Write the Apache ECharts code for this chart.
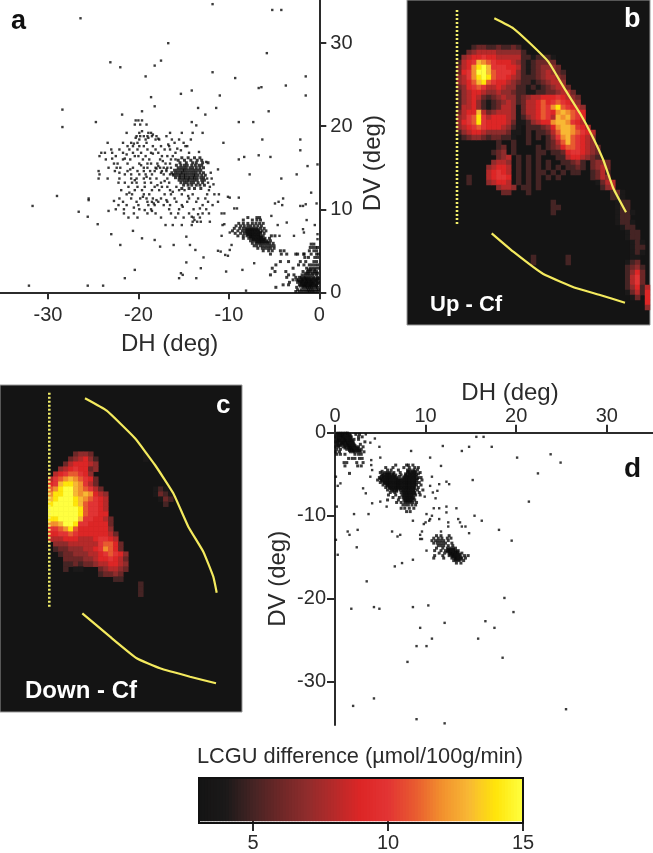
<!DOCTYPE html>
<html><head><meta charset="utf-8">
<style>html,body{margin:0;padding:0;background:#fff}#c{width:653px;height:853px}</style>
<script src="https://cdn.jsdelivr.net/npm/echarts@6/dist/echarts.min.js"></script>
</head><body><div id="c"></div>
<script>
// ---- tick labels
const ticksAX=[-30,-20,-10,0], ticksAY=[0,10,20,30];
const ticksDX=[0,10,20,30], ticksDY=[0,-10,-20,-30];
const ticksBar=[5,10,15];
// ---- panel a : sparse points [DH,DV]
const sparseA=[[-11.8,34.7],[-5.2,34],[-4.2,34],[-26.4,33],[-16.7,30],[-5.8,28.8],[-23.1,27.7],[-22,27.1],[-18.2,27.3],[-17.5,27.9],[-19.2,26],[-11.8,26.5],[-9.3,25.8],[-1.5,26],[-3.7,24.9],[-6.7,24.6],[-6.4,24.7],[-15.3,23.9],[-14.1,24.3],[-18.6,23.5],[-11,23.7],[-1.5,23.7],[-18.2,22.4],[-13.4,22.2],[-11.4,22.2],[-5.6,21.8],[-28.4,22],[-28.4,19.9],[-19.6,21.8],[-21.8,21.4],[-12.6,21.4],[-24.7,20.5],[-14.1,20.5],[-13.6,20.1],[-8.9,20.5],[-7.3,20.5],[-2.1,18.4],[-6.3,18.4],[-10.6,18],[-2.1,17.1],[-6.7,16.5],[-5.4,16.3],[-8.3,16.3],[-8.9,16],[-1.3,15.2],[-0.2,15.4],[-11.2,14.8],[-7.7,14.2],[-2.5,14.2],[-4.2,13.7],[-0.9,12],[-29,11.6],[-31.7,10.4],[-25.5,11.3],[-25.5,11.1],[-26.6,9.7],[-25.6,9.1],[-24.5,8.2],[-23,7],[-22,5.7],[-20.6,7.4],[-19.6,6.5],[-18.2,6.3],[-17.6,5.5],[-16.1,5.7],[-20.4,2.7],[-21.5,1.7],[-32.1,0.8],[-25.6,0.8],[-23.9,0.8],[-8.1,0.2],[-15.3,2.3],[-15.1,2.1],[-15.5,1.7],[-13.6,1.7],[-13.1,2.9],[-14.7,3.6],[-12.8,4.2],[-13.7,5.1],[-14.3,5.7],[-14.7,6.7],[-10.3,2.5],[-8.5,2.7],[-7.2,3.5],[-9.9,5.1],[-10.4,4.5],[-10.9,4.9],[-11.2,5],[-10.1,4.4],[-9.7,5.7],[-10.8,6.8],[-9.9,7.2],[-10.7,8.1],[-10.5,8.2],[-10.8,9.5],[-10.5,9.5],[-9.4,10.1],[-9.1,10.1],[-8.9,11.4],[-9.9,11.4],[-10.1,11.5],[-11.1,11.8],[-4.9,10.7],[-4.5,10.9],[-4,11.3],[-4.1,10.5],[-2.1,10.4],[-1.8,10.4],[-1.5,10.6],[-0.3,10.7],[-1.4,8.7],[-0.5,8.1],[-1.8,7.6],[-1.7,7.2],[-2.8,6.8],[-4.4,6.8],[-3.6,8.4],[-4.6,8.1],[-5.3,9.2],[-0.2,7],[-0.2,6.4]];
const cloudAExtra=[[-22.9,16.1],[-22.1,14.4],[-21.3,16.6],[-20.9,14.8],[-20.4,13.5],[-19.7,15.3],[-19.1,13.9],[-18.4,16.7],[-18,14.9],[-17.3,15.8],[-17.1,13.4],[-16.2,12.1],[-15.7,17.3],[-16.9,11.1],[-17.9,12.9],[-19.5,11.5],[-20.5,10.2],[-21,12],[-22.7,11],[-23.3,9.8],[-14.5,11.6],[-13.2,10.1],[-12.2,9.5],[-15.1,10.3],[-14.1,9.1],[-13.8,8.7],[-13.4,9.4],[-18.5,9.8],[-19.3,9.9],[-18.3,10.7],[-18,11.1],[-21.5,16.1],[-20.5,17.9],[-20.3,18.6],[-19.6,19.4],[-18.9,18.6],[-18.4,19],[-17.8,18.5],[-16.7,17.8],[-15.3,17.1],[-14.4,16.8],[-14.8,17.6],[-13.3,16.9],[-12.5,15.7],[-12,14.4],[-11.7,13],[-16.9,14.8],[-17.5,14.4],[-17.8,15.2]];
// ---- panel a : diffuse cloud, rows of [DV, DH, DH, ...]
const cloudARows=[[20.7,-20.3,-20,-19.6],[20.2,-20.4,-19.8,-19.1],[19.2,-19.9,-18.9,-18.6,-21.3,-16.5,-15.2,-14,-12.9],[18.8,-20.2,-19.8,-19.4,-19,-18.5,-18,-16.9],[18.4,-19.9,-19.2,-18.1,-17.7,-16.3,-15.5,-14.2],[18,-21.7,-20.8,-20.1,-19.1,-16,-15,-23.4],[17.6,-21.2,-20.6,-19.9,-19.4,-18.4,-17.5,-16.6,-14.6],[17.2,-23,-22.1,-21,-20.1,-19,-18.1,-17.1,-16.5],[16.8,-24.1,-23.7,-22.9,-21.7,-20.6,-19.7,-18.6,-17.8,-15.9],[16.4,-24.3,-22.5,-20.4,-20,-19.2,-17.4,-16.8,-16.2],[16,-23.6,-21.7,-20.9,-19.5,-18.8,-17.6,-16.4,-15.9],[15.5,-22.7,-22.3,-21.2,-19.9,-19,-18.6,-17.9,-17,-16.5],[15,-23.3,-22.4,-22,-20.6,-19.4,-19,-18.1,-17.6,-17.2,-16.8,-16.4],[14.6,-24.4,-22.6,-21.2,-20.1,-19.4,-18.7,-18.2,-17.4,-16.9],[14.2,-24.3,-21.5,-20.8,-19.9,-19.2,-18.5,-17.2,-16.5,-16.2],[13.7,-24.4,-23.4,-22.1,-20.8,-20.2,-19.4,-18.7,-18,-16.8,-11.9,-12.4],[13.2,-22.2,-21.5,-20.7,-20.2,-19.3,-18.6,-17.5,-16.6,-12.3],[12.7,-21.1,-20.1,-19.3,-18.2,-17.4,-16.8,-15.8,-12.1],[12.3,-21.9,-20.4,-19.6,-18.5,-17.7,-16.5,-15.5,-14.9,-12.2],[11.8,-21.3,-20.7,-19.4,-18.8,-17.1,-16.4,-15.2,-14,-12.4,-11.6],[11.3,-22.1,-20.8,-19.8,-19.1,-18.4,-17.5,-16,-14.4,-13.4,-12.6],[10.9,-21.7,-20.2,-19,-18.5,-17.8,-16.8,-15.8,-14.6,-13.6,-12.3,-11.2],[10.5,-22.2,-21.3,-20,-18.9,-18.2,-17.2,-16.5,-15.2,-12.9,-11.8],[10,-22.5,-21.6,-19.9,-18.6,-16.6,-15.5,-13.9,-12.5],[9.5,-21.6,-20.5,-19,-18.1,-16.4,-15.6,-14.4,-12.9],[9,-21.1,-20.1,-17.5,-15.9,-15,-13.9,-13.2],[8.5,-14,-13.5,-13.1,-12.1],[8.1,-17,-16.2,-15.2,-14.1]];
const clusterA1Rows=[[16.2,-15.2,-14.5,-13.8,-13.2],[15.9,-15.6,-14.9,-14.2,-13.5,-13],[15.6,-15.4,-14.7,-14,-13.6,-12.9,-12.3],[15.3,-15.8,-15.3,-14.9,-14.6,-14.1,-13.7,-13.3,-13],[15,-15.6,-15.3,-15,-14.7,-14.3,-14,-13.6,-13.2,-12.8],[14.7,-16,-15.7,-15.4,-15.1,-14.9,-14.6,-14.3,-14,-13.7,-13.4,-13.1],[14.4,-16.3,-15.9,-15.6,-15.3,-15.1,-14.8,-14.5,-14.2,-13.9,-13.6,-13.2,-12.8],[14.1,-16.1,-15.8,-15.5,-15.3,-15,-14.8,-14.5,-14.2,-13.9,-13.7,-13.4,-13,-12.6],[13.8,-15.9,-15.5,-15.3,-15,-14.8,-14.5,-14.3,-14,-13.8,-13.5,-13.1,-12.8],[13.5,-15.5,-15.2,-14.9,-14.6,-14.4,-14.1,-13.8,-13.5,-13,-12.7],[13.2,-15.3,-14.9,-14.6,-14.2,-13.9,-13.4,-12.9],[12.9,-15,-14.5,-14.1,-13.6,-13.2,-12.7],[12.5,-15.2,-14.4,-13.8,-13.1]];
const clusterA2Rows=[[9,-7.9,-6.9,-6.6],[8.7,-8.4,-7.4,-6.9,-6.5],[8.3,-8.9,-8.4,-7.9,-7.4,-7,-6.6,-6.2],[8,-9.2,-8.7,-8.3,-7.9,-7.6,-7.2,-6.8,-6.4],[7.7,-9.4,-8.8,-8.4,-8.1,-7.8,-7.5,-7.2,-6.9,-6.5,-6.1],[7.4,-9.6,-9,-8.5,-8.2,-7.9,-7.6,-7.3,-7,-6.7,-6.3,-5.9],[7.1,-9.3,-8.7,-8.3,-8,-7.7,-7.4,-7.1,-6.8,-6.5,-6.1],[6.8,-9,-8.4,-8,-7.7,-7.4,-7.1,-6.8,-6.5,-6.2,-5.3,-4.9],[6.5,-8.4,-7.8,-7.5,-7.2,-6.9,-6.6,-6.3,-6,-5.5],[6.2,-7.6,-7.3,-7,-6.7,-6.4,-6.1,-5.8,-5.4],[5.9,-7.4,-7,-6.7,-6.4,-6.1,-5.8,-5.5,-5.1],[5.6,-7.2,-6.9,-6.5,-6.2,-5.9,-5.6,-5.3,-5],[5.3,-6.8,-6.3,-6,-5.7,-5.4,-5],[5,-6.2,-5.6,-5.2,-4.3,-3.9],[4.6,-5.4,-4.2,-3.6,-2.6,-1.7],[7.55,-8,-7.7,-7.4,-7.1,-6.8],[7.25,-8,-7.7,-7.4,-7.1,-6.8,-6.5],[6.95,-7.9,-7.6,-7.3,-7,-6.7],[6.65,-7.6,-7.3,-7,-6.7,-6.4],[6.35,-7.3,-7,-6.7,-6.4,-6.1],[6.05,-6.9,-6.6,-6.3,-6,-5.7]];
const clusterA3Rows=[[5.8,-0.9,-0.6],[5.4,-1,-0.7,-0.4,-0.2],[5,-1.1,-0.6,-0.3],[4.6,-2.4,-1.7,-0.9,-0.3,-0.1],[4.2,-1.6,-1.2,-0.5,-0.2],[3.7,-4.3,-3.4,-2.1,-1.5,-0.6,-0.3],[3.3,-4.8,-2.3,-1.7,-1.1,-0.8,-0.5,-0.2],[2.9,-5.2,-2.9,-1.4,-1,-0.7,-0.4,-0.1],[2.5,-4.9,-3.7,-1.8,-1.3,-1,-0.6,-0.3],[2.1,-5.4,-3.4,-2.8,-1.9,-1.6,-1.3,-1,-0.7,-0.3],[1.8,-3.6,-2.6,-2.2,-2,-1.7,-1.5,-1.2,-0.9,-0.6,-0.2],[1.5,-2.9,-2.5,-2.3,-2,-1.8,-1.5,-1.3,-1,-0.8,-0.5,-0.2],[1.2,-3.3,-2.4,-2.1,-1.9,-1.6,-1.4,-1.2,-0.9,-0.7,-0.4,-0.1],[0.9,-4,-3.4,-2.2,-1.9,-1.7,-1.5,-1.2,-1,-0.8,-0.5,-0.3],[0.6,-4.8,-2.5,-1.8,-1.5,-1.3,-1.1,-0.9,-0.7,-0.4,-0.2],[0.3,-2.4,-2,-1.7,-1.4,-1.2,-1,-0.8,-0.6,-0.3,-0.1],[0.1,-2.6,-2.2,-1.9,-1.6,-1.3,-1.1,-0.9,-0.7,-0.5,-0.2],[0.75,-2.1,-1.8,-1.6,-1.4,-1.1,-0.9,-0.6,-0.3],[1.05,-2,-1.7,-1.5,-1.3,-1,-0.8,-0.6,-0.2],[1.35,-2.2,-1.9,-1.7,-1.4,-1.1,-0.9,-0.6,-0.3],[1.65,-1.9,-1.6,-1.4,-1.1,-0.7,-0.4,-0.1],[2.3,-1.5,-1.2,-0.8,-0.5,-0.2],[2.7,-1.2,-0.9,-0.5]];
// ---- panel d : sparse points [DH,DV]
const sparseD=[[15.6,-0.5],[16.4,-0.5],[11.9,-1.6],[17.3,-1.7],[14.8,-1.7],[14,-2.2],[23.8,-2.6],[20.1,-3],[24.9,-3.6],[10.5,-3],[11.7,-4],[22.4,-4.9],[15.2,-5.7],[21.4,-8.3],[15.4,-10],[16.2,-10.6],[18.1,-11.7],[19.5,-13],[14.8,-12.1],[14.4,-11.3],[14,-11.3],[13.6,-10.4],[13.8,-10.8],[13.4,-9.1],[12.3,-8.9],[11.5,-9.1],[10.9,-9.1],[10.7,-10],[10.1,-9.8],[10.5,-10.4],[11.5,-10.4],[12.3,-9.6],[12.5,-10.8],[12.5,-11.3],[11.7,-11.9],[9.8,-11],[10,-10.8],[10.4,-10.6],[9.6,-11.9],[9.4,-12.3],[9.4,-12.8],[9.6,-12.8],[8.6,-10.6],[10.1,-14.2],[8.6,-15.3],[7.4,-15.7],[6.6,-16.1],[6.3,-11.9],[6.9,-12.5],[7.2,-12.3],[3.7,-9.8],[2.1,-9.8],[1.4,-11.9],[1.6,-12.3],[2.5,-11.7],[2.4,-13.8],[3.5,-17.9],[1.8,-21.2],[4.3,-21],[4.9,-21.2],[8.6,-21],[10.3,-20.8],[12.1,-22.9],[18.7,-19.9],[19.7,-21.6],[16.6,-22.7],[17.6,-23.5],[15.8,-24.8],[10.7,-24.8],[9.4,-23.5],[9,-25.7],[10.1,-25.7],[8,-27.6],[18.5,-27.1],[4.3,-32],[2,-32.9],[25.5,-33.3],[9,-34.5],[12.1,-35],[0.1,-5.3],[0.2,-8.9],[0.1,-12.9],[0.3,-14.7],[0.6,-6.1],[0.3,-6.4],[4.4,-0.7],[4.9,-1.7],[3.9,-1.2],[3.4,-0.2],[5,-3],[4,-3.3],[4,-3.9],[4.1,-4.5],[3.9,-5.3],[3.1,-6.7],[3.4,-7.3],[4.1,-8.5],[5,-8.3],[5.7,-8.9],[8.4,-2.2],[10.7,-5.3],[10.5,-6.4],[11.3,-7],[9.9,-7.7],[11.5,-6.2],[10.8,-7.2],[11.1,-7.9],[12.3,-5.9],[12.6,-6.2]];
const clusterD1Rows=[[-0.2,0.2,0.5,0.8,1,1.3,1.6,2.3,2.7],[-0.5,0.1,0.4,0.7,0.9,1.2,1.5,1.8,2.6,3],[-0.8,0.2,0.4,0.7,1,1.2,1.5,1.8,2.1,2.6],[-1.1,0.1,0.3,0.6,0.9,1.1,1.4,1.7,2,3.3],[-1.4,0.2,0.5,0.8,1,1.3,1.5,1.8,2.1,2.8],[-1.7,0.1,0.4,0.9,1.2,1.5,1.7,2,2.3,2.6,3.1],[-2,0.2,0.6,1.3,1.6,1.8,2,2.3,2.6,2.9],[-2.3,0.1,0.5,1.7,2,2.2,2.5,2.8,3.2],[-2.6,0.2,0.6,1.1,2.2,2.6,2.9],[-3.1,1.5,1.9,2.2,2.7,3],[-3.6,1,1.3,2.4,3.1],[-4,1.1,2.5,2.9],[-4.9,1.6],[-0.05,0.3,0.6,0.9,1.2,1.4],[-0.35,0.3,0.6,0.8,1.1,1.4,1.7],[-0.65,0.3,0.6,0.9,1.1,1.4,1.7],[-0.95,0.3,0.5,0.8,1.1,1.3,1.6,1.9],[-1.25,0.3,0.7,0.9,1.2,1.4,1.7,2],[-1.55,0.3,0.6,1.1,1.4,1.6,1.9,2.2],[-1.85,1.1,1.5,1.7,1.9,2.2,2.5],[-2.15,1.6,1.9,2.1,2.4,2.7]];
const clusterD2Rows=[[-3.9,6.7,7.9,8.1,8.6],[-4.2,5.6,6.4,7.6,8.2,8.8,9.2],[-4.5,5.8,6.2,7,8,8.3,8.7,9.1],[-4.8,5,5.5,5.8,6.1,6.5,7.2,8,8.3,8.6,8.9,9.4],[-5.1,5.2,5.5,5.8,6.1,6.4,6.7,7.3,7.8,8.1,8.4,8.7,9],[-5.4,4.9,5.3,5.6,5.9,6.2,6.5,6.8,7.6,7.9,8.2,8.5,8.8,9.2,9.5],[-5.7,4.7,5.1,5.4,5.7,6,6.3,6.6,6.9,7.2,7.5,7.8,8.1,8.4,8.7,9,9.6],[-6,5,5.4,5.7,6,6.3,6.6,6.9,7.2,7.5,7.8,8.1,8.4,8.7,9,9.3],[-6.3,5.3,5.7,6,6.3,6.6,6.9,7.2,7.5,7.8,8.1,8.4,8.7,9,9.5],[-6.6,5.6,6,6.3,6.6,6.9,7.2,7.5,7.8,8.1,8.4,8.7,9.2],[-6.9,5.8,6.2,6.5,6.8,7.2,7.5,7.8,8.1,8.4,8.7,9.1,9.7],[-7.2,6.1,6.6,7.3,7.6,7.9,8.2,8.5,8.8,9.3],[-7.5,5.9,6.7,7.4,7.7,8,8.3,8.6,8.9,9.4],[-7.8,6.4,7.1,7.5,7.8,8.1,8.4,8.7],[-8.1,5.8,7,7.6,7.9,8.2,8.5,8.8],[-8.4,6.8,7.3,7.7,8,8.3,8.6,9],[-8.7,7.5,7.8,8.1,8.5,8.9],[-9.1,7.3,7.7,8.2,8.7],[-9.5,8.3,7.9],[-4.65,5.2,8.1,8.5,8.8],[-4.95,5.3,5.7,6,6.4,7.8,8.2,8.5,8.8,9.2],[-5.25,5.1,5.4,5.7,6,6.3,6.6,7.1,7.7,8,8.3,8.6,8.9],[-5.55,5,5.2,5.5,5.8,6.1,6.4,6.7,7,7.3,7.6,7.9,8.2,8.5,8.8,9.1],[-5.85,5.2,5.5,5.8,6.1,6.4,6.7,7,7.3,7.6,7.9,8.2,8.5,8.8],[-6.15,5.5,5.8,6.1,6.4,6.7,7,7.3,7.6,7.9,8.2,8.5,8.8],[-6.45,5.8,6.1,6.4,6.7,7,7.3,7.6,7.9,8.2,8.5,8.8],[-6.75,6.1,6.4,6.7,7,7.3,7.6,7.9,8.2,8.5,8.8],[-7.05,6.4,6.8,7.5,7.8,8.1,8.4,8.7],[-7.35,7.6,7.9,8.2,8.5,8.8],[-7.65,7.6,7.9,8.2,8.5],[-7.95,7.7,8,8.3,8.6],[-8.25,7.8,8.1,8.4]];
const clusterD3Rows=[[-12.4,11.2,11.7,12.6],[-12.7,10.9,11.4,11.8,12.4,12.8],[-13,10.7,11.1,11.4,11.7,12,12.5],[-13.3,10.9,11.3,11.6,11.9,12.2,12.9],[-13.6,11.4,11.7,12,12.5,13],[-13.9,11.2,11.9,12.4,12.7,13,13.3],[-14.2,11,11.7,12.2,12.5,12.7,13,13.3,13.6],[-14.5,11.5,12.1,12.6,12.8,13,13.3,13.6,14],[-14.8,11,11.9,12.6,12.9,13.1,13.4,13.7,14.3,14.7],[-15.1,10.9,12,12.9,13.2,13.4,13.7,14,14.4],[-15.4,13.1,13.4,13.7,14.2],[-15.7,13.4,13.9],[-14.05,12.5,12.8,13.1],[-14.35,12.4,12.7,13,13.3,13.5],[-14.65,12.7,13,13.2,13.5,13.8],[-14.95,13,13.3,13.6,13.9],[-15.25,13.3,13.6,13.9]];
// ---- activity maps, one character per cell: . = none, 1..9,a,b,c = 4..15 umol
const heatB=[
"...2332232232",
"..345555444442",
".456676655555"+"2212221",
"2567a98766654"+"2123333",
"3569bca777665"+"21234443",
"3679cca877764"+"212345432",
"4579bcb877654"+"222345543",
"4568ab8766543"+"221234554",
"3467875565442"+"2121234553",
"2456654454432"+"21122334553",
"24565323454423"+"45566676543",
"24564212345423"+"55686787654",
"25564212355413"+"556879b87654",
"3566a534555413"+"5568769a9876",
"4578b756665412"+"456875a9a876",
"4678b766665311"+"245669aa9765",
"4567876665421."+"2223469aa9765",
"2456654444311."+"2.22358aa98765",
"1234432332 1..".replace(' ','2')+"2.2.2479a87654",
"........2..2.."+"2...2358a87654",
"........23.2.."+"..2.2346887654"+"3",
".......234.2.."+"..22.2236776543",
"........345.2."+"2.2...225665432",
".......4554.2."+"2.2.2..22342.3443",
"......45665.2."+"2.2.2.2.2232.3453",
"......56765.2."+"2.22.2.2.22..2352",
"..2...56776.2."+"2.2.2.2......2354",
"..2...45665.2."+"2.2...........1355",
"........4554.2"+"2.2............245",
".........33...2................231",
"...............................221",
"...................2............122",
"...................22...........122",
"...................2............1221",
"................................122",
"................................1221",
".................................122",
"..................................122",
"..................................122",
"...................................121",
"...................................122",
"...................................121",
"...............2......2............11",
"...............2......2...........123",
"..................................2342",
"..................................2463",
"..................................2573",
"..................................2573",
"..................................24625",
"..................................13526",
"...................................13.6",
"......................................6",
"......................................4"
];
const heatC=[
".....3443..........1",
"....345642.........1",
"...3566654",
"..45676634",
".56788764",
"5789a98763",
"67abba9753",
"89bcca98753..........121",
"9bbcca9a9654.........1321",
"abcccba98765..........132",
"bccccba87765...........2",
"ccccccb87765",
"ccccccb87766",
"bbcccca776653",
"99accb7766663",
"7789b86666664",
"66778766666653",
"55566655567765",
".44455555578863",
".233444556 79863".replace(' ',''),
"..23344455678764",
"...3333445667653",
"...2232334556654",
"...2.11...345543",
"..........23343",
".............22",
"..................2",
"..................2",
"..................2"
];
// ---- outlines in map units (panel pixels of the original sections)
const upperBX=[87.3,106.3,123,141.3,156.3,173,184.7,196.3,206.3,219], upperBY=[18.3,28.3,43.3,61.7,86.7,113.3,135,160,188.3,212.3];
const lowerBX=[84.7,106.3,136.3,169.7,193,218], lowerBY=[233.3,251.7,274,288.3,295,302.7];
const midlineBX=[50,50], midlineBY=[10,226];
const upperCX=[85,106.7,135,155,173.3,188.3,203.3,213.3,216.7], upperCY=[13.3,25.7,53.3,80,108.3,141.7,166.7,191.7,207.7];
const lowerCX=[82.3,110,136.7,160,190,216], lowerCY=[228.3,251.7,273.3,283.3,291.7,298.3];
const midlineCX=[49.3,49.3], midlineCY=[7.7,222.3];
// ---- colour bar
const barColors=['#141414','#1b1919','#452424','#6c2727','#8f2c2c','#b52a2a','#dd2626','#e23434','#e85a30','#f2902e','#f8b834','#ffe50a','#ffff40'];
const barCells=108, barMin=3, barMax=15;

const FONT='"Liberation Sans",Arial,sans-serif', INK='#2b2b2b';
const rowsToPts=rows=>rows.flatMap(r=>r.slice(1).map(x=>[x,r[0]]));
const LEVELS='.123456789abc';
function mapCells(rows){const cells=[];rows.forEach((r,j)=>{[...r].forEach((ch,i)=>{const k=LEVELS.indexOf(ch);if(k>0)cells.push([i,j,3+k]);});});return cells;}
const cats=n=>Array.from({length:n},(_,i)=>String(i));
const zip=(a,b)=>a.map((v,i)=>[v,b[i]]);
const hidden={show:false};
const chart=echarts.init(document.getElementById('c'),null,{renderer:'canvas'});
const base=(gridIndex,extra)=>Object.assign({gridIndex,splitLine:hidden},extra);
const axisLine={show:true,onZero:false,lineStyle:{color:INK,width:2}};
const tick=(vals,len)=>({show:true,length:len,customValues:vals,lineStyle:{color:INK,width:2}});
const lab=(vals,m)=>({show:true,customValues:vals,color:INK,fontFamily:FONT,fontSize:20,hideOverlap:false,margin:m});
const nameS=pad=>({color:INK,fontFamily:FONT,fontSize:24,padding:pad});
const scatter=(g,d,size)=>({type:'scatter',xAxisIndex:g,yAxisIndex:g,data:d,symbol:'rect',symbolSize:size,itemStyle:{color:'#0a0a0a'},silent:true,z:3});

const option={
 animation:false,backgroundColor:'#fff',
 visualMap:{show:false,min:3,max:15,seriesIndex:[0,1,2],inRange:{color:barColors}},
 grid:[
  {left:0,top:0,width:319.3,height:292.3},
  {left:335,top:432.7,width:318,height:292.3},
  {left:407,top:0,width:243,height:325,show:true,backgroundColor:'#141414',borderColor:'#999',borderWidth:1},
  {left:0,top:385,width:242,height:327,show:true,backgroundColor:'#141414',borderColor:'#999',borderWidth:1},
  {left:456.7,top:45,width:193.3,height:265},
  {left:48.3,top:451.7,width:145,height:145},
  {left:199,top:778,width:324,height:45}
 ],
 xAxis:[
  base(0,{type:'value',min:-35.3,max:0,axisLine,axisTick:tick(ticksAX,7),axisLabel:lab(ticksAX,13),name:'DH (deg)',nameLocation:'middle',nameGap:40,nameTextStyle:nameS([0,0,0,20])}),
  base(1,{type:'value',min:0,max:35.1,position:'top',axisLine,axisTick:tick(ticksDX,8),axisLabel:lab(ticksDX,6),name:'DH (deg)',nameLocation:'middle',nameGap:27,nameTextStyle:nameS([0,0,0,32])}),
  base(2,{type:'value',min:0,max:243,show:false}),
  base(3,{type:'value',min:0,max:242,show:false}),
  base(4,{type:'category',data:cats(39),show:false}),
  base(5,{type:'category',data:cats(29),show:false}),
  base(6,{type:'category',data:cats(barCells),show:false}),
  base(6,{type:'value',min:barMin,max:barMax,position:'bottom',axisLine:{show:false},axisTick:tick(ticksBar,10),axisLabel:lab(ticksBar,12)})
 ],
 yAxis:[
  base(0,{type:'value',min:0,max:35.2,position:'right',axisLine,axisTick:tick(ticksAY,7),axisLabel:lab(ticksAY,11),name:'DV (deg)',nameLocation:'middle',nameRotate:90,nameGap:42,nameTextStyle:nameS([0,34,0,0])}),
  base(1,{type:'value',min:-35.2,max:0,axisLine,axisTick:tick(ticksDY,8),axisLabel:lab(ticksDY,9),name:'DV (deg)',nameLocation:'middle',nameRotate:90,nameGap:45,nameTextStyle:nameS([0,0,0,0])}),
  base(2,{type:'value',min:0,max:325,inverse:true,show:false}),
  base(3,{type:'value',min:0,max:327,inverse:true,show:false}),
  base(4,{type:'category',data:cats(53),inverse:true,show:false}),
  base(5,{type:'category',data:cats(29),inverse:true,show:false}),
  base(6,{type:'category',data:['bar'],show:false})
 ],
 series:[
  {type:'heatmap',xAxisIndex:4,yAxisIndex:4,data:mapCells(heatB),progressive:0,z:2},
  {type:'heatmap',xAxisIndex:5,yAxisIndex:5,data:mapCells(heatC),progressive:0,z:2},
  {type:'heatmap',xAxisIndex:6,yAxisIndex:6,data:cats(barCells).map((c,i)=>[i,0,barMin+(barMax-barMin)*(i+0.5)/barCells]),progressive:0,z:2},
  scatter(0,sparseA,2.4),scatter(0,rowsToPts(cloudARows),2.4),scatter(0,cloudAExtra,2.4),scatter(0,rowsToPts(clusterA1Rows),3),scatter(0,rowsToPts(clusterA2Rows),3),scatter(0,rowsToPts(clusterA3Rows),3),
  scatter(1,sparseD,2.4),scatter(1,rowsToPts(clusterD1Rows),3),scatter(1,rowsToPts(clusterD2Rows),3),scatter(1,rowsToPts(clusterD3Rows),3),
  ...[[2,upperBX,upperBY],[2,lowerBX,lowerBY],[3,upperCX,upperCY],[3,lowerCX,lowerCY]].map(([g,x,y])=>({
    type:'line',xAxisIndex:g,yAxisIndex:g,data:zip(x,y),showSymbol:false,smooth:0.12,lineStyle:{color:'#f4ea5e',width:2.2},z:4})),
  ...[[2,midlineBX,midlineBY],[3,midlineCX,midlineCY]].map(([g,x,y])=>({
    type:'line',xAxisIndex:g,yAxisIndex:g,data:zip(x,y),showSymbol:false,lineStyle:{color:'#f2ee6a',width:2.6,type:[2,2]},z:4}))
 ],
 graphic:[
  {type:'rect',shape:{x:199,y:778,width:324,height:45},z:9,style:{fill:null,stroke:'#111',lineWidth:2}},
  {type:'text',left:11,top:8,z:10,style:{text:'a',fill:'#111',font:'bold 27px '+FONT}},
  {type:'text',left:624,top:6,z:10,style:{text:'b',fill:'#fff',font:'bold 27px '+FONT}},
  {type:'text',left:216,top:393,z:10,style:{text:'c',fill:'#fff',font:'bold 26px '+FONT}},
  {type:'text',left:624,top:455,z:10,style:{text:'d',fill:'#111',font:'bold 28px '+FONT}},
  {type:'text',left:430,top:294,z:10,style:{text:'Up - Cf',fill:'#fff',font:'bold 22px '+FONT}},
  {type:'text',left:25,top:679,z:10,style:{text:'Down - Cf',fill:'#fff',font:'bold 24px '+FONT}},
  {type:'text',left:197,top:746,z:10,style:{text:'LCGU difference (\u00b5mol/100g/min)',fill:INK,font:'21.8px '+FONT}}
 ]
};
chart.setOption(option);
</script></body></html>
